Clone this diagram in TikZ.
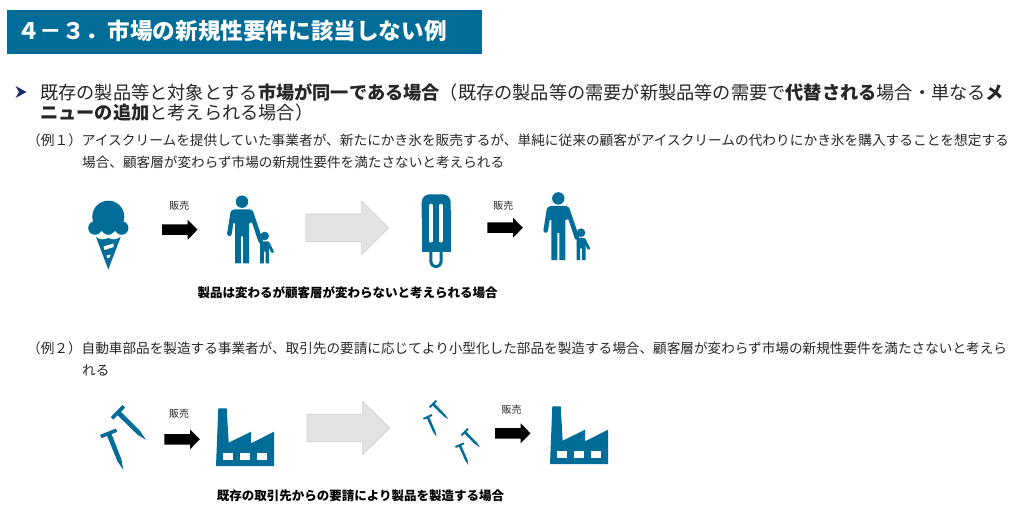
\documentclass[tikz,border=0pt]{standalone}
\usepackage{fontspec}
\setmainfont{Noto Sans CJK JP}
\definecolor{teal}{HTML}{006C98}
\definecolor{ink}{HTML}{262626}
\definecolor{navy}{HTML}{1F2A6B}
\tikzset{
	big/.style={anchor=west,inner sep=0pt,text=ink,font=\fontsize{18.2}{22}\selectfont},
	body/.style={anchor=west,inner sep=0pt,text=ink,font=\fontsize{13.62}{16}\selectfont},
	note/.style={inner sep=0pt,text=black,font=\fontsize{12.5}{15}\selectfont\bfseries},
	sale/.style={inner sep=0pt,text=ink,font=\fontsize{10}{12}\selectfont},
	shift arrow/.style={fill=black!11,draw=black!18,line width=0.8pt},
	pics/family/.style={code={
		% father
		\fill[teal] (0,-61.6) circle (6.2);
		\fill[teal,rounded corners=4pt] (-11.5,-54) rectangle (11.5,-40);
		\fill[teal] (-7,-45)--(7,-45)--(7,0)--(1,0)--(1,-27)--(-1,-27)--(-1,0)--(-7,0)--cycle;
		\draw[teal,line width=4.6pt,line cap=round] (-9.3,-50)--(-12.6,-29.5);
		\draw[teal,line width=4.6pt,line cap=round] (9.3,-50)--(18.6,-22.5);
		% child
		\fill[teal] (22.7,-27.3) circle (4.3);
		\fill[teal,rounded corners=2pt] (18.2,-22)rectangle (27.2,-14);
		\fill[teal] (18.2,-16)--(27.2,-16)--(27.2,0)--(23.6,0)--(23.6,-11.7)--(21.8,-11.7)--(21.8,0)--(18.2,0)--cycle;
		\draw[teal,line width=2.8pt,line cap=round] (26,-20.5)--(30.5,-11.5);
	}},
	pics/factory/.style={code={
		\fill[teal] (0,0)--(2.3,-57.7)--(10.7,-57.7)--(12.7,-23.3)--(35,-34.3)--(35,-22.7)--(58,-34.3)--(58,0)--cycle;
		\foreach \x in {7.3,24,41.3}
		\fill[white] (\x,-12.7) rectangle ++(10,6.7);
	}},
	pics/nail/.style={code={
		\fill[teal] (0,-8.5)--(3.6,-8.5)--(3.6,-2.4)--(31,-2.2)--(41,0)--(31,2.2)--(3.6,2.4)--(3.6,8.5)--(0,8.5)--cycle;
	}},
	pics/salearrow/.style={code={
		\fill[black] (0,-5.3)--(25.7,-5.3)--(25.7,-10)--(35.5,0)--(25.7,10)--(25.7,5.3)--(0,5.3)--cycle;
	}},
	pics/shiftarrow/.style={code={
		\path[shift arrow] (0,-13.8)--(55.7,-13.8)--(55.7,-26.7)--(82.5,0)--(55.7,26.7)--(55.7,13.8)--(0,13.8)--cycle;
	}},
}
\begin{document}
\begin{tikzpicture}[x=1pt,y=-1pt,line join=round]
	\useasboundingbox (0,0) rectangle (1019,521);
	% title bar
	\fill[teal] (7,10) rectangle (482,54);
	\node[anchor=west,inner sep=0pt,text=white,font=\fontsize{22.6}{26}\selectfont\bfseries] (title) at (17,31) {４－３．市場の新規性要件に該当しない例};
	% bullet
	\fill[navy] (15.5,86)--(26.5,92)--(15.5,98)--(19,92)--cycle;
	\node[big] (lineA) at (40,92) {既存の製品等と対象とする\textbf{市場が同一である場合}（既存の製品等の需要が新製品等の需要で\textbf{代替される}場合・単なる\textbf{メ}};
	\node[big] (lineB) at (40,113) {\textbf{ニューの追加}と考えられる場合）};
	% example 1
	\node[body,font=\fontsize{13.69}{16}\selectfont] (exA) at (27,140) {（例１）アイスクリームを提供していた事業者が、新たにかき氷を販売するが、単純に従来の顧客がアイスクリームの代わりにかき氷を購入することを想定する};
	\node[body] (exAb) at (82,162) {場合、顧客層が変わらず市場の新規性要件を満たさないと考えられる};
	% ice cream
	\fill[teal] (108.3,216.7) circle (16);
	\foreach \x in {95,108.3,121.6}
	\fill[teal] (\x,228) circle (6.8);
	\fill[teal] (96,237) .. controls (100,240) and (104,240) .. (108.3,238) .. controls (112,240) and (116,240) .. (120.7,237)--(108.3,269.5)--cycle;
	\fill[white] (103.5,246.5)--(113.5,243.5)--(113.5,247)--(104.5,250)--cycle;
	\fill[white] (106.5,255.5)--(110.5,254.5)--(109.5,257.5)--(107.5,258)--cycle;
	\pic at (162,229.7) {salearrow};
	\node[sale] (saleA) at (179.3,206) {販売};
	\pic at (242,263.3) {family};
	\pic at (306,227.8) {shiftarrow};
	% popsicle
	\fill[teal,rounded corners=8pt] (421.7,194.3) rectangle (450.7,225);
	\fill[teal] (421.7,210) rectangle (450.7,251.7);
	\draw[teal,line width=3pt] (441.2,251)--(441.2,261.6) arc (0:180:5.2)--(430.8,251);
	\foreach \x in {429,439}
	\fill[white,rounded corners=1pt] (\x,204) rectangle ++(3.8,38.3);
	\pic at (487.3,227.7) {salearrow};
	\node[sale] (saleB) at (503.3,205.3) {販売};
	\pic at (558.3,260) {family};
	\node[note] (noteA) at (347.5,293) {製品は変わるが顧客層が変わらないと考えられる場合};
	% example 2
	\node[body] (exB) at (27,348) {（例２）自動車部品を製造する事業者が、取引先の要請に応じてより小型化した部品を製造する場合、顧客層が変わらず市場の新規性要件を満たさないと考えら};
	\node[body] (exBb) at (82,370) {れる};
	% nails
	\pic[rotate=-44.7] at (116.7,411) {nail};
	\pic[rotate=-68.2] at (108,431.7) {nail};
	\pic at (164.3,439.3) {salearrow};
	\node[sale] (saleC) at (179,413.3) {販売};
	\pic at (216,466) {factory};
	\pic at (307,428) {shiftarrow};
	\pic[rotate=-45,scale=.55] at (432.3,403.3) {nail};
	\pic[rotate=-66,scale=.55] at (427.3,416) {nail};
	\pic[rotate=-45,scale=.55] at (464,431.3) {nail};
	\pic[rotate=-66,scale=.55] at (459.3,444.3) {nail};
	\pic at (495,433.3) {salearrow};
	\node[sale] (saleD) at (511.7,409.3) {販売};
	\pic at (550,464) {factory};
	\node[note] (noteB) at (360.5,496) {既存の取引先からの要請により製品を製造する場合};
\end{tikzpicture}
\end{document}
